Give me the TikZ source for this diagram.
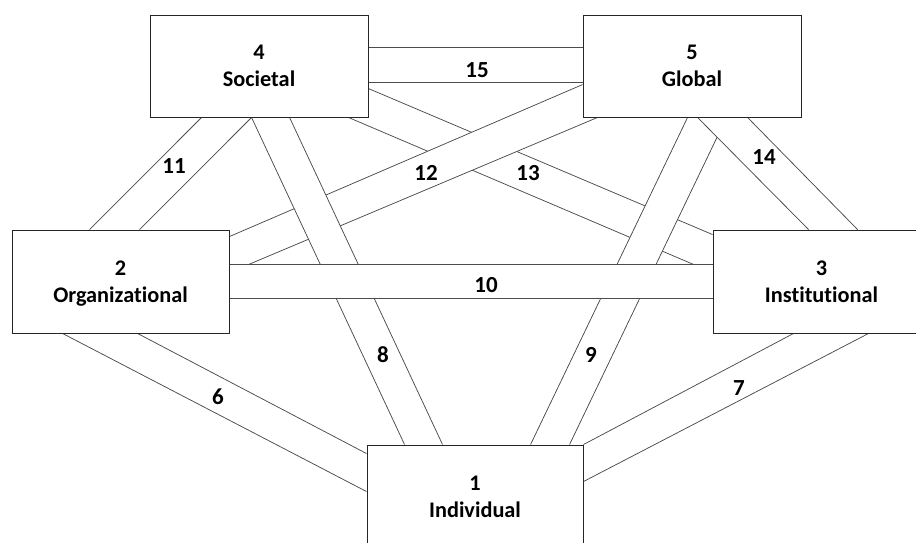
\documentclass[tikz,border=0pt]{standalone}
\usepackage{fontspec}
\setmainfont{Carlito}[Ligatures=NoCommon]
\usetikzlibrary{backgrounds}
\tikzset{
  level/.style={draw=black!85, line width=0.9pt, fill=white,
    minimum width=218pt, minimum height=102pt, inner sep=0pt,
    align=center, text depth=0pt,
    font=\fontsize{22.3}{27}\selectfont\bfseries},
  bandline/.style={draw=black!70, line width=0.75pt},
  bandfill/.style={fill=white},
  tag/.style={font=\fontsize{23}{27}\selectfont\bfseries, inner sep=0pt},
}
% a link between two levels: a white strip bounded by two parallel lines
\newcommand{\linkband}[4]{%
  \fill[bandfill] #1 -- #2 -- #4 -- #3 -- cycle;
  \draw[bandline] #1 -- #2 #3 -- #4;
}
\begin{document}
\begin{tikzpicture}[x=1pt,y=-1pt]
\useasboundingbox (0,0) rectangle (916,542);
\clip (0,0) rectangle (916,542);

% the five levels
\node[level] (soc) at (259,66)    {4\\Societal};
\node[level] (glo) at (692,66)    {5\\Global};
\node[level, minimum width=217pt, minimum height=103pt] (org) at (120.5,281.5) {2\\Organizational};
\node[level, minimum width=217pt, minimum height=103pt] (ins) at (821.5,281.5) {3\\Institutional};
\node[level, minimum width=216pt, minimum height=103pt] (ind) at (475,496.5)   {1\\Individual};

% links, back to front
\begin{pgfonlayer}{background}
  % 13: societal - institutional
  \linkband{([yshift=-74pt]soc.north east)}{([yshift=-5pt]ins.north west)}
           {([xshift=-20pt]soc.south east)}{([yshift=-43pt]ins.north west)}
  % 12: global - organizational
  \linkband{([yshift=-70pt]glo.north west)}{([yshift=-7pt]org.north east)}
           {([xshift=15pt]glo.south west)}{([yshift=-43pt]org.north east)}
  % 8: societal - individual
  \linkband{([xshift=102pt]soc.south west)}{([xshift=38pt]ind.north west)}
           {([xshift=140pt]soc.south west)}{([xshift=76pt]ind.north west)}
  % 9: global - individual
  \linkband{([xshift=105pt]glo.south west)}{([xshift=164pt]ind.north west)}
           {([xshift=144pt]glo.south west)}{([xshift=203pt]ind.north west)}
  % 14: global - institutional
  \linkband{([xshift=115pt]glo.south west)}{([xshift=96pt]ins.north west)}
           {([xshift=165pt]glo.south west)}{([xshift=145pt]ins.north west)}
  % 10: organizational - institutional
  \linkband{([yshift=-35pt]org.north east)}{([yshift=-35pt]ins.north west)}
           {([yshift=-69pt]org.north east)}{([yshift=-69pt]ins.north west)}
  % 6: organizational - individual
  \linkband{([xshift=51pt]org.south west)}{([yshift=-47pt]ind.north west)}
           {([xshift=126pt]org.south west)}{([yshift=-9pt]ind.north west)}
  % 7: institutional - individual
  \linkband{([xshift=81pt]ins.south west)}{(ind.north east)}
           {([xshift=156pt]ins.south west)}{([yshift=-37pt]ind.north east)}
  % 11: societal - organizational
  \linkband{([xshift=52pt]soc.south west)}{([xshift=78pt]org.north west)}
           {([xshift=102pt]soc.south west)}{([xshift=128pt]org.north west)}
  % 15: societal - global
  \linkband{([yshift=-33pt]soc.north east)}{([yshift=-33pt]glo.north west)}
           {([yshift=-68pt]soc.north east)}{([yshift=-68pt]glo.north west)}
\end{pgfonlayer}

% link numbers
\node[tag] (t15) at (477,70)  {15};
\node[tag] (t10) at (486,285) {10};
\node[tag] (t11) at (174,166) {11};
\node[tag] (t12) at (426,173) {12};
\node[tag] (t13) at (528,173) {13};
\node[tag] (t14) at (764,157) {14};
\node[tag] (t8)  at (383,355) {8};
\node[tag] (t6)  at (218,397) {6};
\node[tag] (t9)  at (591,355) {9};
\node[tag] (t7)  at (739,388) {7};
\end{tikzpicture}
\end{document}
